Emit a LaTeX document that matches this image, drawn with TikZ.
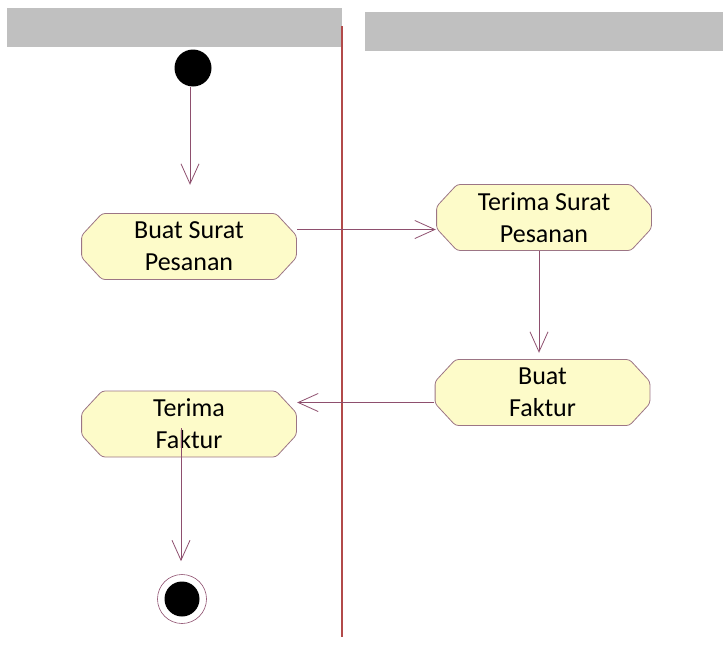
\documentclass[tikz,border=0pt]{standalone}
\usepackage{fontspec}
\setmainfont{Carlito}
\usepackage{tikz}
\usetikzlibrary{arrows.meta}
\definecolor{lanegray}{HTML}{C0C0C0}
\definecolor{laneline}{HTML}{B24A4A}
\definecolor{actfill}{HTML}{FDFBC9}
\definecolor{actdraw}{HTML}{9C7585}
\definecolor{flowcol}{HTML}{8E4F6E}
\newcommand{\actpt}[2]{([shift={(#1,#2)}]path picture bounding box.center)}
\tikzstyle{lanehead} = [fill=lanegray, draw=none, rectangle, anchor=north west, inner sep=0pt]
\tikzstyle{actbox} = [rectangle, minimum width=216pt, minimum height=67pt, inner sep=0pt, align=center, font=\fontsize{26}{32}\selectfont,
  path picture={\filldraw[fill=actfill, draw=actdraw, line width=0.8pt, rounded corners=3pt]
    \actpt{-87}{-33} -- \actpt{87}{-33} -- \actpt{107.4}{-11} -- \actpt{107.4}{11} -- \actpt{87}{33}
    -- \actpt{-87}{33} -- \actpt{-107.4}{11} -- \actpt{-107.4}{-11} -- cycle;}]
\tikzstyle{flow} = [draw=flowcol, line width=0.8pt, -{Straight Barb[length=20pt,width=18pt]}]

\begin{document}
\begin{tikzpicture}[x=1pt,y=-1pt]
\useasboundingbox (0,0) rectangle (723,664);
% swimlanes
\node[lanehead, minimum width=335pt, minimum height=39pt] (laneA) at (7,8) {};
\node[lanehead, minimum width=358pt, minimum height=39pt] (laneB) at (365,12) {};
\draw[laneline, line width=1.6pt] (342,26) -- (342,637);
% activities
\node[circle, fill=black, minimum size=37pt, inner sep=0pt] (start) at (193,68) {};
\node[actbox] (bs) at (189,246.5) {Buat Surat\\Pesanan};
\node[actbox] (ts) at (544,217.5) {Terima Surat\\Pesanan};
\node[actbox] (bf) at (542.5,392.5) {Buat\\Faktur};
\node[actbox] (tf) at (189,424) {Terima\\Faktur};
\node[circle, draw=flowcol, line width=0.6pt, minimum size=49pt, inner sep=0pt] (stop) at (182,599) {};
\node[circle, fill=black, minimum size=35pt, inner sep=0pt] (stopdot) at (stop) {};
% flows
\coordinate (sx) at (190,0);
\draw[flow, shorten >=28pt] (sx |- start.south) -- (sx |- bs.north);
\draw[flow] ([yshift=17pt]bs.east) coordinate (q) -- (ts.west |- q);
\draw[flow, shorten >=6pt] ([xshift=-5pt]ts.south) coordinate (r) -- (r |- bf.north);
\draw[flow] ([yshift=-10pt]bf.west) coordinate (p) -- (tf.east |- p);
\draw[flow, shorten >=13pt] ([xshift=-8pt,yshift=-4pt]tf.center) coordinate (s) -- (s |- stop.north);
\end{tikzpicture}
\end{document}
